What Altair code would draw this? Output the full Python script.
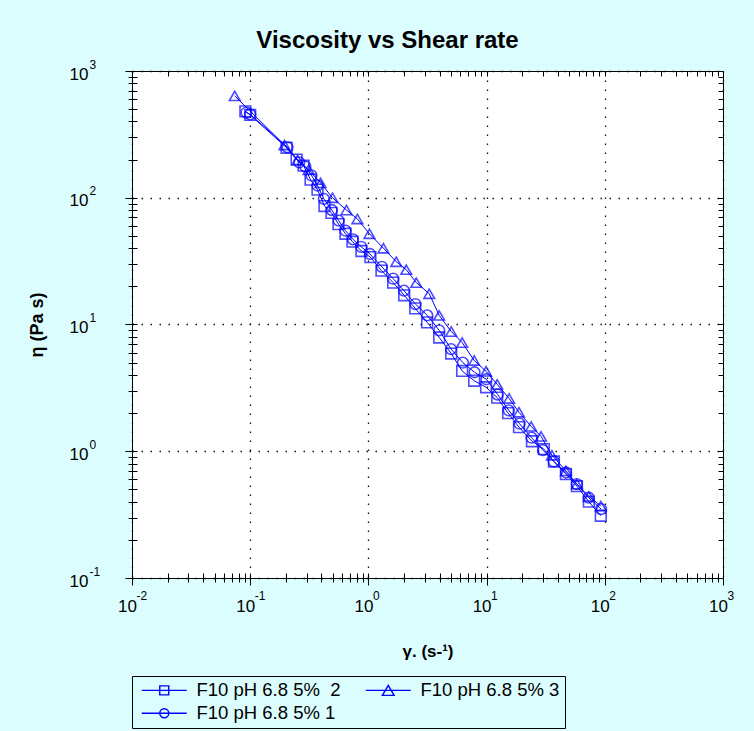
import altair as alt
import pandas as pd

FONT = "Liberation Sans"
BLUE = "#0000ff"
BG = "#dcfdfd"

SERIES = ["F10 pH 6.8 5%\u00a0 2", "F10 pH 6.8 5% 3", "F10 pH 6.8 5% 1"]

# series "2" (squares)
rate_2 = [0.091, 0.10, 0.203, 0.247, 0.283, 0.324, 0.371, 0.425, 0.487, 0.558,
          0.64, 0.733, 0.873, 1.04, 1.29, 1.62, 2.01, 2.49, 3.14, 3.97,
          5.02, 6.21, 7.85, 9.9, 12.3, 15.2, 18.8, 24.2, 30.5, 37.1,
          46.9, 58.1, 73.3, 92.5]
visc_2 = [480, 450, 248, 200, 179, 139, 116, 86, 76, 62,
          52, 45, 38, 34, 26.6, 21.4, 17.0, 13.4, 10.4, 7.9,
          5.9, 4.3, 3.6, 3.2, 2.65, 2.0, 1.55, 1.2, 1.04, 0.83,
          0.66, 0.53, 0.40, 0.31]

# series "3" (triangles)
rate_3 = [0.074, 0.195, 0.252, 0.312, 0.394, 0.497, 0.652, 0.807, 1.02, 1.34,
          1.72, 2.09, 2.54, 3.27, 3.97, 5.02, 6.21, 7.85, 9.9, 12.3,
          15.5, 18.8, 23.8, 28.9, 35.7, 46.9, 58.1, 73.3, 92.5]
visc_3 = [636, 261, 199, 166, 131, 100, 80, 68, 52, 40,
          31.3, 27.1, 21.4, 17.5, 11.8, 8.8, 7.2, 5.2, 4.27, 3.37,
          2.61, 2.03, 1.57, 1.31, 0.93, 0.70, 0.55, 0.44, 0.37]

# series "1" (circles)
rate_1 = [0.093, 0.10, 0.207, 0.26, 0.293, 0.33, 0.371, 0.42, 0.49, 0.56,
          0.64, 0.74, 0.87, 1.03, 1.3, 1.62, 2.0, 2.5, 3.15, 3.97,
          5.0, 6.3, 7.9, 9.95, 12.4, 15.4, 19.0, 24.0, 30.0, 37.0,
          47.0, 58.0, 73.0, 93.0]
visc_1 = [470, 455, 250, 190, 176, 150, 125, 98, 80, 66,
          55, 47, 41, 36, 28.5, 23, 18.5, 14.5, 11.8, 9.0,
          6.4, 5.0, 4.2, 3.7, 2.8, 2.1, 1.65, 1.28, 1.02, 0.83,
          0.68, 0.55, 0.43, 0.35]

x_major = [0.01, 0.1, 1, 10, 100, 1000]
y_major = [0.1, 1, 10, 100, 1000]
x_all = [m * 10.0 ** e for e in range(-2, 3) for m in range(1, 10)] + [1000]
y_all = [m * 10.0 ** e for e in range(-1, 3) for m in range(1, 10)] + [1000]

rows = []
for name, rr, vv in [(SERIES[0], rate_2, visc_2), (SERIES[1], rate_3, visc_3), (SERIES[2], rate_1, visc_1)]:
    for i, (r, v) in enumerate(zip(rr, vv)):
        rows.append({"series": name, "rate": r, "visc": v, "idx": i})
df = pd.DataFrame(rows)

x_scale = alt.Scale(type="log", domain=[0.01, 1000], nice=False)
y_scale = alt.Scale(type="log", domain=[0.1, 1000], nice=False)

EXP = "toString(round(log(datum.value)/LN10))"

x_main = alt.Axis(orient="bottom", values=x_major, labelExpr="'10'", labelFont=FONT, labelFontSize=17,
                  labelColor="black", labelAlign="center", labelOffset=-5, labelPadding=13,
                  labelFlush=False, labelOverlap=False, tickSize=7, tickColor="black",
                  domainColor="black", grid=True, gridColor="#111111", gridDash=[1.5, 7.5], gridWidth=1.3,
                  title="γ. (s-¹)", titleFont=FONT, titleFontSize=17, titleFontWeight="bold",
                  titleColor="black", titlePadding=29)
y_main = alt.Axis(orient="left", values=y_major, labelExpr="'10'", labelFont=FONT, labelFontSize=17,
                  labelColor="black", labelAlign="right", labelBaseline="middle", labelOffset=3,
                  labelPadding=37, labelFlush=False, labelOverlap=False, tickSize=7, tickColor="black",
                  domainColor="black", grid=True, gridColor="#111111", gridDash=[1.5, 7.5], gridWidth=1.3,
                  title="η (Pa s)", titleFont=FONT, titleFontSize=18, titleFontWeight="bold",
                  titleColor="black", titlePadding=23)
x_exp = alt.Axis(orient="bottom", values=x_major, labelExpr=EXP, labelFont=FONT, labelFontSize=12,
                 labelColor="black", labelAlign="left", labelOffset=4, labelPadding=12,
                 labelFlush=False, labelOverlap=False, ticks=False, tickSize=0, domain=False,
                 grid=False, title=None)
y_exp = alt.Axis(orient="left", values=y_major, labelExpr=EXP, labelFont=FONT, labelFontSize=12,
                 labelColor="black", labelAlign="left", labelBaseline="middle", labelOffset=-7,
                 labelPadding=43, labelFlush=False, labelOverlap=False, ticks=False, tickSize=0,
                 domain=False, grid=False, title=None)
x_in = alt.Axis(orient="bottom", values=x_all, labels=False, domain=False, grid=False,
                tickSize=9, offset=-5, tickColor="black", title=None)
y_in = alt.Axis(orient="left", values=y_all, labels=False, domain=False, grid=False,
                tickSize=9, offset=-5, tickColor="black", title=None)
x_top = alt.Axis(orient="top", values=x_all, labels=False, domain=False, grid=False,
                 tickSize=5, offset=-5, tickColor="black", title=None)
y_right = alt.Axis(orient="right", values=y_all, labels=False, domain=False, grid=False,
                   tickSize=5, offset=-5, tickColor="black", title=None)

LEG_PATHS = [
    "M-1,0H9M3,-1H5V1H3Z",
    "M-1,0H9M4,-1.1L5.3,1.1H2.7Z",
    "M-1,0H9M5,0A1,1,0,1,1,3,0A1,1,0,1,1,5,0",
]

base = alt.Chart(df)


def enc(xa, ya):
    return dict(x=alt.X("rate:Q", scale=x_scale, axis=xa),
                y=alt.Y("visc:Q", scale=y_scale, axis=ya))


lines = base.mark_line(color=BLUE, strokeWidth=1).encode(
    **enc(x_main, y_main), detail="series:N", order="idx:Q")

points = base.mark_point(filled=False, color=BLUE, strokeWidth=1.6, size=115).encode(
    **enc(x_exp, y_exp),
    shape=alt.Shape("series:N", scale=alt.Scale(domain=SERIES, range=["square", "triangle-up", "circle"]),
                    legend=None))

legend_layer = base.mark_point(filled=False, color=BLUE, opacity=0).encode(
    **enc(x_in, y_in),
    shape=alt.Shape("series:N", scale=alt.Scale(domain=SERIES, range=LEG_PATHS),
                    legend=alt.Legend(title=None, orient="none", legendX=0, legendY=605, columns=2,
                                      direction="horizontal",
                                      symbolSize=81, symbolStrokeWidth=1.4, symbolStrokeColor=BLUE,
                                      symbolFillColor="transparent", symbolOpacity=1,
                                      labelFont=FONT, labelFontSize=18.5, labelColor="black",
                                      labelOffset=41, labelLimit=400, columnPadding=20, rowPadding=4,
                                      padding=5, strokeColor="black", fillColor=BG, cornerRadius=0)))

mirror = base.mark_point(opacity=0).encode(**enc(x_top, y_right))

chart = alt.layer(lines, points, legend_layer, mirror).resolve_axis(
    x="independent", y="independent").resolve_scale(shape="independent").properties(
    width=591, height=507,
    autosize=alt.AutoSizeParams(type="none"),
    padding={"left": 132, "top": 71, "right": 31, "bottom": 153},
    background=BG,
    title=alt.TitleParams(text="Viscosity vs Shear rate", font=FONT, fontSize=24, fontWeight="bold",
                          color="black", anchor="middle", dx=-40, offset=5),
).configure_view(fill="white", stroke="black", strokeWidth=1)

chart.save("out.html", embed_options={"renderer": "svg", "actions": False})
